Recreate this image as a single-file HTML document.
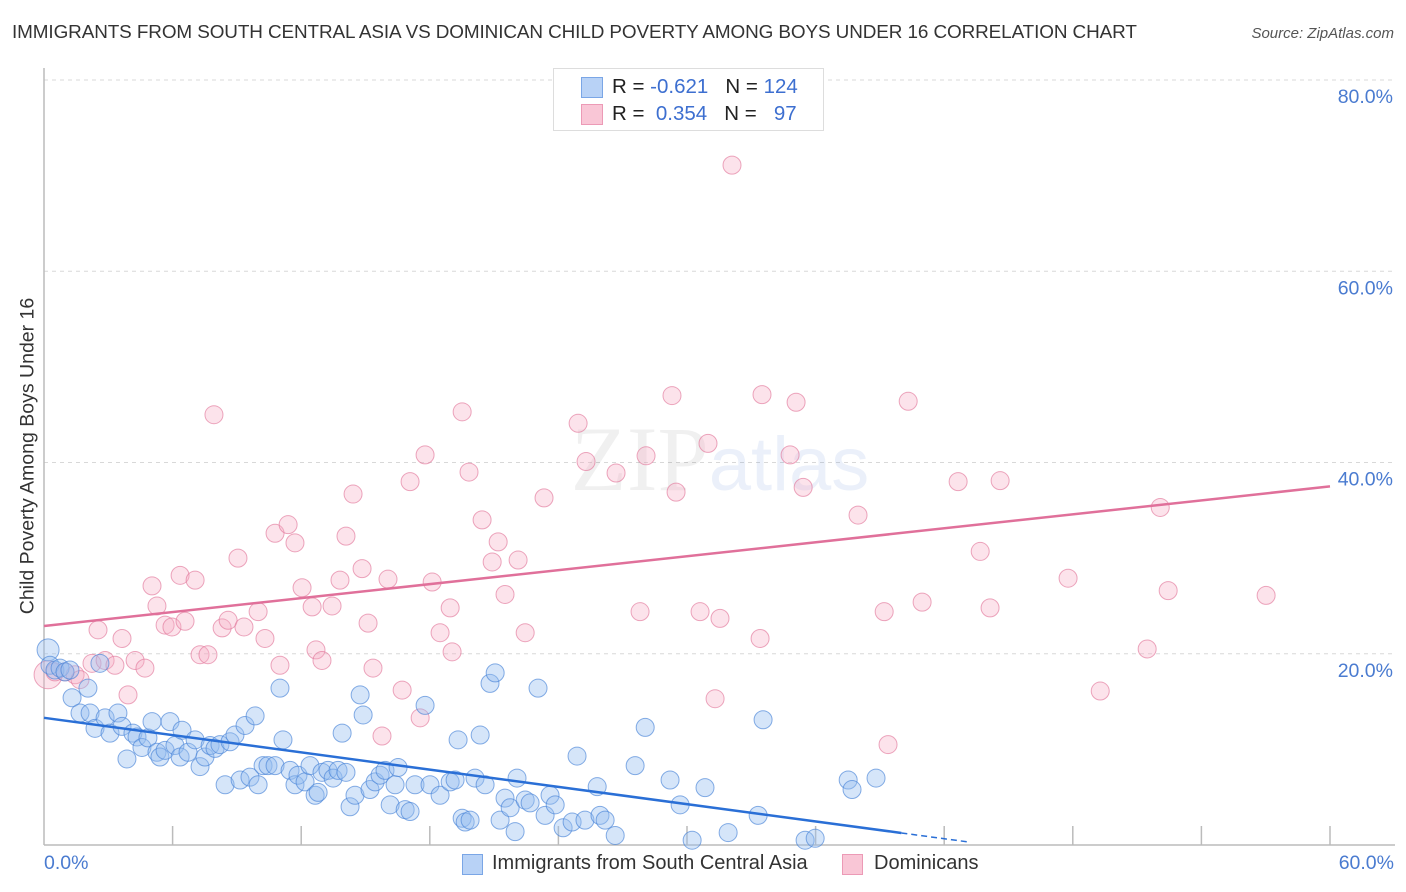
<!DOCTYPE html>
<html><head><meta charset="utf-8"><style>
body{margin:0;background:#fff;font-family:"Liberation Sans",sans-serif;}
#wrap{position:relative;width:1406px;height:892px;overflow:hidden;}
.t{position:absolute;white-space:nowrap;}
</style></head><body>
<div id="wrap">
<div class="t" style="left:12px;top:22px;font-size:18.9px;color:#333;letter-spacing:-0.1px">IMMIGRANTS FROM SOUTH CENTRAL ASIA VS DOMINICAN CHILD POVERTY AMONG BOYS UNDER 16 CORRELATION CHART</div>
<div class="t" style="right:12px;top:25px;font-size:15px;color:#555;font-style:italic">Source: ZipAtlas.com</div>
<svg id="svg" width="1406" height="892" style="position:absolute;left:0;top:0"></svg>
</div>
<script>
const blueX=[0.19,0.28,0.51,0.75,0.98,1.21,1.31,1.68,2.05,2.15,2.38,2.61,2.85,3.08,3.45,3.64,3.87,4.15,4.34,4.57,4.85,5.04,5.27,5.41,5.65,5.88,6.11,6.35,6.44,6.72,7.05,7.28,7.51,7.75,7.98,8.21,8.45,8.68,8.91,9.15,9.38,9.61,9.85,9.99,10.22,10.45,10.78,11.01,11.15,11.48,11.71,11.85,12.18,12.41,12.65,12.79,12.97,13.25,13.49,13.72,13.91,14.09,14.28,14.51,14.75,14.89,15.21,15.45,15.68,15.91,16.15,16.38,16.52,16.85,17.08,17.31,17.78,18.01,18.48,18.95,19.18,19.32,19.51,19.65,19.88,20.11,20.35,20.58,20.81,21.05,21.28,21.51,21.75,21.98,22.07,22.45,22.68,23.05,23.38,23.61,23.85,24.22,24.64,24.87,25.24,25.81,25.94,26.18,26.65,27.58,28.05,29.21,29.68,30.24,30.84,31.92,33.32,33.55,35.51,35.98,37.52,37.70,38.82];
const blueY=[20.4,18.8,18.3,18.5,18.1,18.3,15.4,13.8,16.4,13.8,12.2,19.0,13.3,11.7,13.8,12.4,9.0,11.7,11.3,10.2,11.2,12.9,9.7,9.2,9.9,12.9,10.4,9.2,12.0,9.7,11.0,8.2,9.2,10.4,10.1,10.5,6.3,10.8,11.5,6.8,12.5,7.1,13.5,6.3,8.3,8.3,8.3,16.4,11.0,7.8,6.3,7.3,6.6,8.3,5.2,5.5,7.6,7.8,7.0,7.8,11.7,7.6,4.0,5.2,15.7,13.6,5.8,6.6,7.3,7.8,4.2,6.3,8.1,3.7,3.5,6.3,14.6,6.3,5.2,6.6,6.8,11.0,2.8,2.4,2.6,7.0,11.5,6.3,16.9,18.0,2.6,4.9,3.9,1.4,7.0,4.7,4.4,16.4,3.1,5.2,4.2,1.8,2.4,9.3,2.6,6.1,3.1,2.6,1.0,8.3,12.3,6.8,4.2,0.5,6.0,1.3,3.1,13.1,0.5,0.7,6.8,5.8,7.0];
const pinkX=[0.19,0.51,0.98,1.45,1.68,2.24,2.52,2.85,3.31,3.64,3.92,4.25,4.71,5.04,5.27,5.65,5.97,6.35,6.58,7.05,7.28,7.65,7.93,8.31,8.59,9.05,9.33,9.99,10.31,10.78,11.01,11.39,11.71,12.04,12.51,12.69,12.97,13.44,13.81,14.09,14.42,14.84,15.12,15.35,15.77,16.05,16.71,17.08,17.55,17.78,18.11,18.48,18.95,19.04,19.51,19.83,20.44,20.91,21.19,21.51,22.12,22.45,23.33,24.92,25.29,26.69,27.81,28.09,29.30,29.49,30.61,30.98,31.31,31.54,32.10,33.41,33.50,34.81,35.09,35.42,37.98,39.20,39.38,40.32,40.97,42.65,43.68,44.14,44.61,47.78,49.28,51.47,52.08,52.45,57.02];
const pinkY=[17.8,18.1,18.1,17.8,17.3,19.0,22.5,19.3,18.8,21.6,15.7,19.3,18.5,27.1,25.0,23.0,22.8,28.2,23.4,27.7,19.9,19.9,45.0,22.7,23.5,30.0,22.8,24.4,21.6,32.6,18.8,33.5,31.6,26.9,24.9,20.4,19.3,25.0,27.7,32.3,36.7,28.9,23.2,18.5,11.4,27.8,16.2,38.0,13.3,40.8,27.5,22.2,24.8,20.2,45.3,39.0,34.0,29.6,31.7,26.2,29.8,22.2,36.3,44.1,40.1,38.9,24.4,40.7,47.0,36.9,24.4,42.0,15.3,23.7,71.1,21.6,47.1,40.8,46.3,37.4,34.5,24.4,10.5,46.4,25.4,38.0,30.7,24.8,38.1,27.9,16.1,20.5,35.3,26.6,26.1];
const blueTrend=[13.3,-0.301];
const pinkTrend=[22.9,0.2433];
const yTicks=[20,40,60,80];
const xTickVals=[6,12,18,24,30,36,42,48,54,60];
const X0=44,X1=1330,Y0=845,Y80=80;
const sx=v=>X0+(X1-X0)*v/60;
const sy=v=>Y0-(Y0-Y80)*v/80;
const svg=document.getElementById('svg');
const NS='http://www.w3.org/2000/svg';
function mk(tag,attrs,parent){const e=document.createElementNS(NS,tag);for(const k in attrs)e.setAttribute(k,attrs[k]);(parent||svg).appendChild(e);return e;}
yTicks.forEach(v=>{const g=mk('line',{x1:X0,x2:1395,y1:sy(v),y2:sy(v),stroke:'#d8d8d8','stroke-dasharray':'4,4'});


const t=mk('text',{x:1393,y:sy(v)+23,'text-anchor':'end','font-size':19.5,fill:'#4a7bd0','font-family':'Liberation Sans, sans-serif'});t.textContent=v.toFixed(1)+'%';

});
const ax=mk('line',{x1:X0,x2:1395,y1:Y0,y2:Y0,stroke:'#bbb','stroke-width':1.5});


const ay=mk('line',{x1:X0,x2:X0,y1:68,y2:Y0,stroke:'#bbb','stroke-width':1.5});


xTickVals.forEach(v=>{const l=mk('line',{x1:sx(v),x2:sx(v),y1:Y0-19,y2:Y0,stroke:'#bbb','stroke-width':1.5});

});
const wm=mk('text',{x:720,y:490,'text-anchor':'middle','font-size':92,fill:'#000','fill-opacity':0.06,'font-family':'Liberation Serif, serif'});
wm.innerHTML='ZIP<tspan fill="#4a7bd0" fill-opacity="0.9" style="opacity:.12" font-family="Liberation Sans, sans-serif" font-size="76">atlas</tspan>';


function pts(xs,ys,fill,stroke,name){xs.forEach((x,i)=>{const r=(i===0)?(name==='pink-point'?14:11):9;
const c=mk('circle',{cx:sx(x),cy:sy(ys[i]),r:r,fill:fill,stroke:stroke,'stroke-width':1});

});}
pts(pinkX,pinkY,'rgba(246,176,198,0.35)','rgba(226,120,155,0.65)','pink-point');
pts(blueX,blueY,'rgba(150,190,240,0.4)','rgba(70,130,215,0.65)','blue-point');
const bt=mk('line',{x1:sx(0),y1:sy(blueTrend[0]),x2:sx(40),y2:sy(blueTrend[0]+blueTrend[1]*40),stroke:'#2a6fd6','stroke-width':2.5});


const bd=mk('line',{x1:sx(40),y1:sy(blueTrend[0]+blueTrend[1]*40),x2:sx(43.2),y2:sy(blueTrend[0]+blueTrend[1]*43.2),stroke:'#2a6fd6','stroke-width':1.5,'stroke-dasharray':'6,4'});


const pt=mk('line',{x1:sx(0),y1:sy(pinkTrend[0]),x2:sx(60),y2:sy(pinkTrend[0]+pinkTrend[1]*60),stroke:'#e0709a','stroke-width':2.5});


</script>
<div class="t" style="left:44px;top:852px;font-size:19.5px;color:#4a7bd0">0.0%</div>
<div class="t" style="right:12px;top:852px;font-size:19.5px;color:#4a7bd0">60.0%</div>
<div class="t" style="left:28px;top:456px;font-size:19.5px;color:#333;transform:translate(-50%,-50%) rotate(-90deg);transform-origin:center">Child Poverty Among Boys Under 16</div>
<div style="position:absolute;left:553px;top:68px;width:269px;height:61px;border:1px solid #ddd;background:#fff">
 <div style="position:absolute;left:27px;top:8px;width:20px;height:19px;background:#b8d2f6;border:1px solid #7aa6e6"></div>
 <div class="t" style="left:58px;top:6px;font-size:20.5px;color:#222">R = <span style="color:#3d6fd0">-0.621</span>&nbsp;&nbsp;&nbsp;N = <span style="color:#3d6fd0">124</span></div>
 <div style="position:absolute;left:27px;top:35px;width:20px;height:19px;background:#f9c6d6;border:1px solid #ec9ab6"></div>
 <div class="t" style="left:58px;top:33px;font-size:20.5px;color:#222">R = &nbsp;<span style="color:#3d6fd0">0.354</span>&nbsp;&nbsp;&nbsp;N = &nbsp;&nbsp;<span style="color:#3d6fd0">97</span></div>
</div>
<div style="position:absolute;left:462px;top:854px;width:19px;height:19px;background:#b8d2f6;border:1px solid #7aa6e6"></div>
<div class="t" style="left:492px;top:852px;font-size:20px;color:#333">Immigrants from South Central Asia</div>
<div style="position:absolute;left:842px;top:854px;width:19px;height:19px;background:#f9c6d6;border:1px solid #ec9ab6"></div>
<div class="t" style="left:874px;top:852px;font-size:20px;color:#333">Dominicans</div>
</body></html>
